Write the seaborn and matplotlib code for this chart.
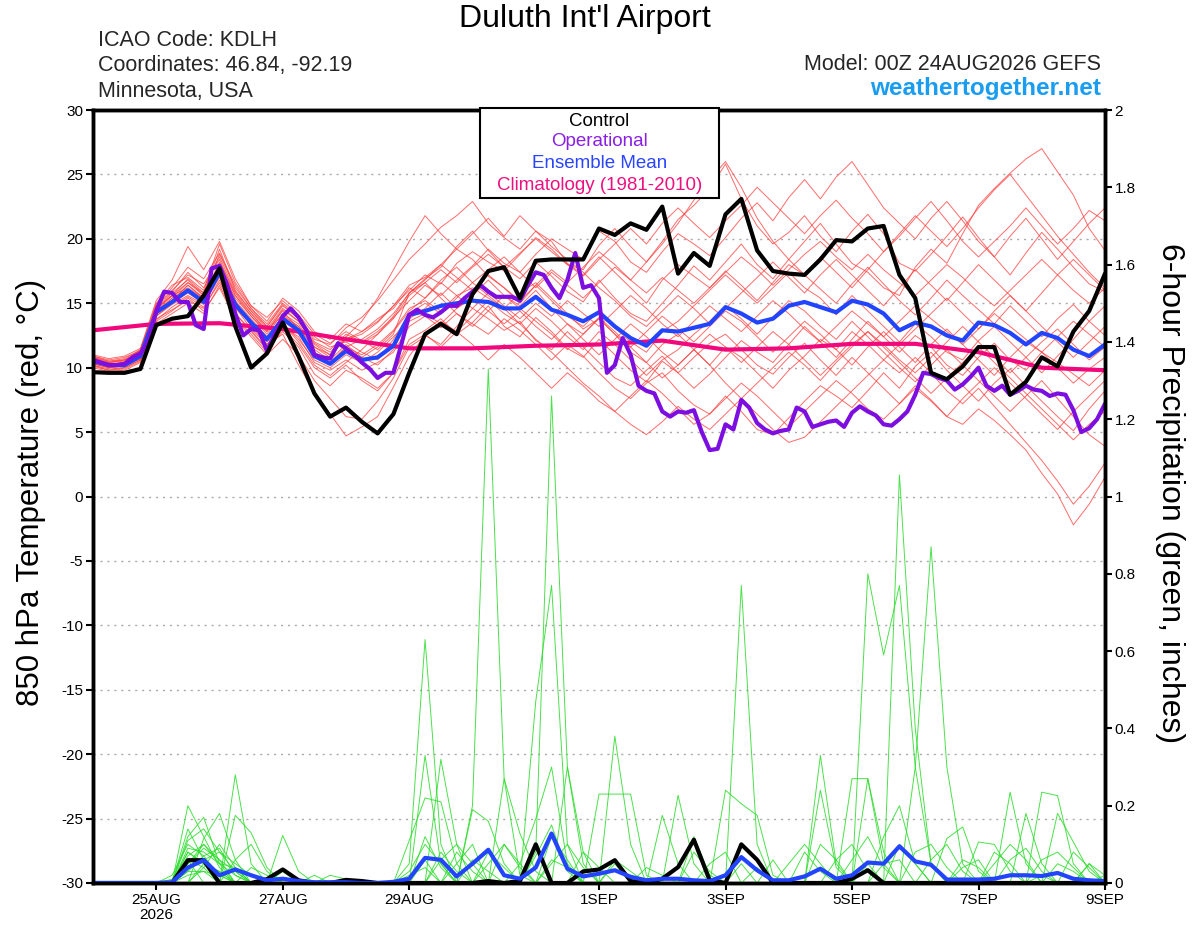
import numpy as np
import pandas as pd
import matplotlib
matplotlib.use("Agg")
import matplotlib.pyplot as plt
import seaborn as sns
from matplotlib.patches import Rectangle

sns.set_theme(style="white")
plt.rcParams["font.family"] = ["Liberation Sans", "DejaVu Sans"]

# ---------------- data ----------------
START = "2026-08-24 00:00"
N6 = 65    # 6-hourly ensemble steps
N3 = 129   # 3-hourly operational steps

TICK_DATES = ["2026-08-25", "2026-08-27", "2026-08-29", "2026-09-01",
              "2026-09-03", "2026-09-05", "2026-09-07", "2026-09-09"]
TICK_LABELS = ["25AUG\n2026", "27AUG", "29AUG", "1SEP", "3SEP", "5SEP", "7SEP", "9SEP"]
TEMP_TICKS = [-30, -25, -20, -15, -10, -5, 0, 5, 10, 15, 20, 25, 30]
PRCP_TICKS = [0, 0.2, 0.4, 0.6, 0.8, 1.0, 1.2, 1.4, 1.6, 1.8, 2.0]
PRCP_LABELS = ["0", "0.2", "0.4", "0.6", "0.8", "1", "1.2", "1.4", "1.6", "1.8", "2"]

control_t = [9.65, 9.6, 9.6, 9.9, 13.3, 13.8, 14.0, 15.6, 17.7, 13.2,
             10.0, 11.1, 13.5, 10.9, 8.0, 6.2, 6.9, 5.8, 4.9, 6.4,
             9.6, 12.6, 13.4, 12.6, 15.7, 17.5, 17.8, 15.4, 18.3, 18.4,
             18.4, 18.4, 20.8, 20.3, 21.2, 20.7, 22.5, 17.3, 18.9, 17.9,
             21.9, 23.1, 19.1, 17.5, 17.3, 17.2, 18.4, 19.9, 19.8, 20.8,
             21.0, 17.2, 15.4, 9.6, 9.1, 10.1, 11.6, 11.6, 7.9, 8.9,
             10.8, 10.1, 12.8, 14.4, 17.3]

mean_t = [10.5, 10.2, 10.2, 10.9, 14.3, 15.1, 16.0, 15.1, 17.4, 14.9,
          13.5, 12.2, 13.8, 12.9, 10.9, 10.3, 11.3, 10.6, 10.8, 11.7,
          14.1, 14.4, 14.8, 15.0, 15.2, 15.1, 14.6, 14.6, 15.5, 14.5,
          14.1, 13.6, 14.3, 13.2, 12.3, 11.7, 12.9, 12.8, 13.1, 13.4,
          14.7, 14.2, 13.5, 13.8, 14.8, 15.1, 14.7, 14.3, 15.2, 14.9,
          14.2, 12.9, 13.5, 13.2, 12.5, 12.1, 13.5, 13.3, 12.7, 11.8,
          12.7, 12.3, 11.4, 10.9, 11.8]

oper_t = [10.6, 10.4, 10.2, 10.2, 10.3, 10.8, 11.1, 12.1, 14.4, 15.9,
          15.8, 15.1, 15.1, 13.3, 13.0, 17.7, 17.9, 16.4, 14.2, 12.5,
          13.0, 12.9, 11.3, 12.6, 14.0, 14.6, 13.9, 12.9, 11.0, 10.8,
          10.7, 11.9, 11.5, 11.0, 10.4, 9.9, 9.2, 9.6, 9.6, 11.8,
          14.1, 14.5, 14.1, 13.9, 14.3, 14.8, 14.8, 15.4, 15.9, 16.4,
          15.9, 15.5, 15.5, 15.5, 15.2, 16.4, 17.4, 17.2, 16.2, 15.4,
          16.8, 18.9, 16.2, 16.4, 15.4, 9.6, 10.2, 12.3, 11.0, 8.6,
          8.2, 8.0, 6.6, 6.2, 6.6, 6.5, 6.7, 5.0, 3.6, 3.7,
          5.6, 5.2, 7.5, 6.9, 5.7, 5.2, 4.9, 5.1, 5.2, 6.9,
          6.6, 5.4, 5.6, 5.8, 5.9, 5.4, 6.5, 7.0, 6.6, 6.3,
          5.6, 5.5, 6.0, 6.6, 7.9, 9.6, 9.5, 9.2, 9.0, 8.3,
          8.7, 9.3, 10.0, 8.6, 8.2, 8.6, 7.9, 8.2, 8.6, 8.3,
          8.2, 7.8, 8.0, 7.9, 6.7, 5.0, 5.3, 6.0, 7.2]

clim_days = list(range(17))
clim_t = [12.9, 13.4, 13.45, 13.0, 12.2, 11.5, 11.5, 11.7, 11.8,
          12.1, 11.4, 11.5, 11.85, 11.85, 11.2, 10.0, 9.8]

members_t = [
    [10.8,10.5,10.6,11.2,14.8,16.0,17.2,16.5,18.4,15.6, 14.0,12.8,14.5,13.6,11.8,11.0,12.2,12.6,13.5,14.8,
     16.0,17.2,16.5,18.1,19.0,18.2,17.5,18.8,20.1,19.2, 18.0,17.6,19.5,20.8,19.4,18.2,19.8,21.5,22.6,23.9,
     25.8,23.1,21.0,19.6,20.5,21.8,20.2,19.0,20.6,21.9, 20.4,18.1,17.5,18.8,20.2,21.7,20.1,18.6,17.2,18.9,
     20.5,19.2,17.8,16.5,15.9],
    [10.2,9.9,10.0,10.6,13.8,14.5,15.2,14.6,16.8,14.2, 12.9,11.5,12.8,11.6,9.5,8.6,9.8,9.2,8.4,9.6,
     12.2,12.9,13.8,12.6,13.5,14.8,13.2,12.4,13.9,12.8, 11.5,10.8,12.2,11.0,9.8,8.9,10.5,9.6,10.8,11.9,
     12.6,11.4,10.2,9.5,10.8,11.9,10.6,9.4,10.8,9.6, 8.4,7.2,8.6,7.5,6.2,5.6,6.8,5.9,4.8,3.6,
     1.8,0.2,-2.2,-0.6,1.5],
    [11.0,10.7,10.9,11.5,15.2,16.8,19.4,17.6,19.8,16.9, 14.8,13.9,15.2,14.1,12.6,11.9,12.8,12.1,11.4,12.6,
     15.8,16.9,17.8,19.4,20.6,19.1,17.8,16.9,18.2,17.1, 15.9,15.1,16.8,15.4,14.2,13.6,15.0,16.4,17.9,16.8,
     18.2,19.6,18.0,16.9,18.4,19.8,21.2,19.6,18.1,17.4, 16.2,15.6,17.8,19.2,18.1,20.4,22.6,23.9,25.1,26.2,
     27.0,25.2,23.4,20.8,19.1],
    [10.4,10.1,10.3,11.0,14.1,15.4,16.1,15.3,18.1,15.2, 13.2,11.8,12.6,10.2,8.1,6.4,4.7,5.4,6.2,8.5,
     10.9,12.5,11.8,13.2,14.6,13.8,12.9,13.6,12.1,11.4, 12.8,11.6,10.4,9.2,8.6,9.8,10.9,9.6,8.4,9.5,
     10.8,12.1,11.2,10.4,11.8,13.2,12.0,10.8,12.2,13.6, 12.4,11.2,12.5,11.6,10.2,9.4,10.8,11.9,10.6,9.8,
     11.2,10.4,9.5,8.6,9.8],
    [10.6,10.4,10.5,11.4,14.6,15.6,16.6,15.8,19.2,16.0, 14.4,13.2,14.9,13.8,12.2,11.8,13.1,13.9,15.2,16.8,
     18.4,19.6,20.9,21.8,22.9,21.2,20.1,19.2,20.6,19.8, 18.1,17.2,18.6,17.4,16.2,15.0,16.8,18.0,17.1,16.2,
     17.5,16.4,15.2,16.6,18.0,17.2,16.1,15.0,16.5,17.8, 16.5,15.2,14.1,15.4,16.8,15.6,14.5,13.4,14.8,13.6,
     12.4,13.8,14.9,13.6,12.5],
    [10.0,9.7,9.8,10.4,13.4,14.2,15.0,14.2,16.4,13.9, 12.6,11.2,13.2,12.4,10.4,9.8,10.6,9.8,10.4,11.2,
     13.2,14.0,13.1,14.2,13.4,12.6,13.8,12.9,11.8,10.6, 11.8,10.9,9.6,8.4,7.6,8.8,9.6,8.2,7.1,6.4,
     7.8,6.6,5.2,4.8,6.1,7.4,8.6,7.8,6.9,8.2, 9.6,8.4,10.1,11.2,9.8,8.6,7.4,8.8,9.9,8.6,
     7.4,6.2,5.1,6.8,8.2],
    [10.9,10.6,10.8,11.3,14.9,16.2,17.8,16.9,18.9,16.4, 14.6,13.4,15.0,14.0,12.0,11.4,12.6,12.0,12.8,13.9,
     15.2,16.4,15.6,16.8,17.9,19.2,18.1,17.4,18.8,20.0, 19.2,18.4,20.6,19.8,18.2,17.4,19.0,20.4,19.6,18.7,
     20.1,21.6,22.8,21.4,23.2,24.6,23.1,24.8,26.0,24.2, 22.4,21.2,20.0,21.6,22.9,21.4,19.8,18.6,20.2,21.6,
     20.0,18.4,19.8,21.2,22.4],
    [10.3,10.0,10.1,10.7,14.0,14.9,15.6,14.9,17.0,14.6, 13.4,12.0,13.6,12.8,11.2,10.4,11.6,11.0,11.8,12.9,
     14.6,15.2,14.4,15.6,16.2,15.4,14.6,15.8,16.6,15.4, 14.2,13.0,13.8,12.6,11.2,10.4,11.8,12.6,11.4,10.2,
     11.6,10.8,9.6,8.4,9.8,10.9,12.2,11.4,10.2,11.6, 12.8,11.6,10.4,11.8,13.0,11.8,10.6,9.4,10.8,12.0,
     11.2,10.0,8.8,9.9,10.8],
    [10.7,10.3,10.4,11.1,14.5,15.8,16.8,15.6,18.2,15.8, 14.2,12.9,14.1,13.2,11.6,10.8,12.4,13.6,15.4,17.6,
     19.8,21.8,20.4,19.2,18.4,17.1,16.2,15.0,16.4,15.2, 14.0,13.2,14.4,13.1,12.0,11.2,12.8,13.6,14.8,16.0,
     17.2,16.1,15.0,16.2,17.4,16.2,15.4,14.1,15.6,14.4, 13.2,12.0,13.4,12.4,11.2,10.6,12.1,13.2,12.0,10.8,
     9.6,10.9,12.2,13.6,14.8],
    [10.1,9.8,9.9,10.5,13.6,14.4,15.4,14.4,16.2,13.8, 12.4,11.0,12.2,11.0,9.0,7.6,6.2,6.0,7.4,9.2,
     11.6,12.4,13.6,12.8,14.0,15.2,14.2,13.4,14.6,13.6, 12.4,11.4,12.8,11.8,10.6,9.4,10.6,11.4,12.6,13.6,
     14.8,13.8,12.6,13.9,15.2,14.4,13.2,12.2,13.6,12.4, 11.2,10.0,8.9,10.2,11.4,10.2,9.0,7.8,6.6,7.8,
     9.0,7.6,6.2,4.8,3.9],
    [10.5,10.2,10.3,10.8,14.2,15.2,16.4,15.4,17.8,15.0, 13.6,12.4,14.0,13.2,11.4,10.6,11.8,10.8,10.2,11.4,
     13.8,14.6,15.8,14.6,15.6,16.8,15.6,14.8,16.0,14.6, 13.4,12.6,13.9,12.8,11.6,12.8,14.0,13.0,12.0,13.2,
     14.4,13.6,12.4,11.2,12.4,13.6,12.6,11.4,12.8,11.8, 10.6,9.6,10.8,9.6,8.2,7.2,8.4,7.0,5.6,4.2,
     2.8,1.2,-0.6,0.8,2.6],
    [10.8,10.4,10.6,11.3,14.7,15.9,17.4,16.2,18.6,15.9, 14.4,13.0,14.6,13.6,11.9,11.2,12.4,11.9,12.6,13.8,
     15.6,16.6,17.6,16.6,17.8,18.8,17.8,18.9,20.0,19.0, 18.0,17.1,18.4,19.6,20.8,19.6,21.2,22.4,21.2,20.1,
     21.4,22.6,24.0,22.8,21.6,20.4,21.8,23.0,21.6,20.4, 19.0,20.2,21.6,22.9,21.4,19.8,18.6,19.8,21.0,22.4,
     21.0,19.6,20.8,22.2,21.4],
    [10.2,9.8,10.0,10.6,13.7,14.7,15.5,14.7,16.6,14.2, 12.8,11.4,13.0,11.8,10.0,9.2,10.2,9.0,8.2,9.6,
     11.8,12.6,11.6,12.8,11.8,10.6,11.8,10.8,9.6,8.4, 9.6,8.6,7.4,6.6,7.8,9.0,8.0,6.8,5.6,6.4,
     7.6,8.8,7.8,6.6,5.4,6.6,7.8,9.0,8.0,6.8, 6.0,7.2,8.4,7.4,6.2,7.6,8.8,10.0,8.8,7.6,
     6.4,5.2,6.6,7.8,9.0],
    [10.6,10.3,10.4,11.0,14.4,15.4,16.6,15.6,17.8,15.4, 14.0,12.6,14.2,13.4,11.6,11.0,12.2,12.8,13.6,14.8,
     16.4,17.0,18.0,19.2,20.4,21.6,20.2,21.8,20.6,19.4, 18.4,17.4,16.2,15.2,14.0,13.2,14.4,15.6,14.6,13.4,
     14.6,15.8,17.0,18.2,17.0,15.8,17.2,18.4,17.2,16.0, 14.8,16.2,17.6,16.4,15.2,16.6,18.0,16.8,15.6,14.4,
     15.8,17.2,18.4,17.2,16.0],
    [10.4,10.0,10.2,10.8,14.0,15.0,15.8,15.0,17.2,14.7, 13.0,11.8,13.4,12.2,10.6,10.0,11.0,10.4,11.2,12.4,
     13.6,14.2,13.4,14.6,15.4,14.4,13.4,14.4,13.2,12.2, 13.4,12.2,11.0,12.2,13.4,12.4,11.2,10.2,11.4,12.6,
     11.6,10.4,11.6,12.8,11.8,10.6,9.4,10.6,11.8,12.8, 11.8,10.6,9.6,10.8,12.0,13.2,12.0,10.8,9.6,10.8,
     12.0,13.0,11.8,10.6,11.6],
    [10.9,10.5,10.7,11.4,15.0,16.4,17.0,16.0,19.6,16.6, 14.8,13.6,15.4,14.4,12.8,12.2,13.4,12.8,13.8,14.6,
     16.2,15.4,16.8,17.8,16.6,17.6,18.6,17.4,16.2,17.4, 16.4,15.4,16.6,17.8,16.8,15.8,17.0,16.0,15.0,16.2,
     17.4,18.6,17.6,16.4,17.6,18.8,19.8,18.6,17.6,18.8, 17.6,16.6,15.6,16.8,18.0,17.0,15.8,14.8,16.0,17.2,
     18.4,17.2,16.0,15.0,16.2],
    [10.3,10.0,10.2,10.9,14.2,15.2,15.9,15.2,17.6,15.2, 13.8,12.4,13.4,12.0,10.2,9.4,10.4,11.4,12.6,14.0,
     15.8,16.6,15.4,14.2,13.2,14.4,15.6,14.6,13.6,12.6, 11.4,12.6,13.8,12.6,11.6,10.4,9.2,10.2,11.4,10.2,
     8.8,7.6,6.4,5.2,4.2,4.6,5.8,7.0,8.2,9.4, 10.6,11.8,13.0,14.2,15.4,14.2,13.0,14.4,15.6,14.4,
     13.2,12.0,10.8,12.0,13.2],
    [10.6,10.2,10.4,11.0,14.6,15.6,16.2,15.4,18.0,15.6, 14.2,12.8,14.4,13.0,11.0,10.4,11.6,12.2,13.0,14.2,
     15.8,16.8,18.0,17.0,16.0,17.2,16.2,15.2,16.4,17.6, 16.6,17.8,19.0,18.0,16.8,18.2,19.6,21.2,23.0,24.6,
     26.0,24.0,21.6,19.8,18.4,17.2,18.6,17.4,16.2,17.6, 19.0,20.4,21.8,20.6,19.4,20.8,22.4,23.8,25.0,23.4,
     21.8,20.2,18.8,17.4,16.2],
    [10.5,10.1,10.2,10.7,14.2,15.2,16.4,15.4,17.4,15.0, 13.6,12.2,13.8,12.6,10.8,10.2,11.4,10.8,11.6,12.8,
     14.4,15.4,16.6,15.6,14.6,15.8,14.8,13.8,15.0,14.0, 15.2,14.2,13.2,14.4,15.6,14.6,13.4,12.4,13.6,14.8,
     13.8,12.8,14.0,15.2,14.2,13.0,12.0,13.2,14.4,13.4, 12.4,13.6,14.8,13.8,12.8,11.8,13.0,14.2,13.2,12.2,
     11.2,12.4,13.6,12.6,11.6],
    [10.7,10.4,10.6,11.2,14.4,15.6,16.9,15.8,18.8,16.2, 14.6,13.2,14.8,13.8,12.4,11.6,12.0,11.2,10.6,12.2,
     14.2,15.0,14.2,15.4,16.6,15.6,14.6,13.4,12.2,11.2, 10.0,8.8,7.8,6.6,5.6,4.8,5.8,7.0,6.0,5.2,
     6.4,7.6,8.8,10.0,11.2,10.2,9.0,10.4,11.6,12.8, 11.6,10.4,9.2,8.0,9.2,10.4,11.6,10.4,9.2,8.0,
     6.8,5.6,4.4,5.6,6.6],
]

# 6-hour precipitation (inches): control, ensemble mean, and members
control_p = [0, 0, 0, 0, 0, 0, 0.059, 0.059, 0, 0,
             0, 0.01, 0.035, 0.007, 0, 0, 0.008, 0.005, 0, 0,
             0, 0, 0, 0, 0, 0.005, 0, 0.005, 0.10, 0,
             0, 0.03, 0.035, 0.059, 0.005, 0, 0.011, 0.041, 0.112, 0.007,
             0, 0.10, 0.06, 0, 0, 0, 0, 0, 0.011, 0.033,
             0, 0, 0, 0, 0, 0, 0, 0, 0, 0,
             0, 0, 0, 0, 0]
mean_p = [0, 0, 0, 0, 0, 0.002, 0.04, 0.059, 0.02, 0.035,
          0.02, 0.007, 0.011, 0.005, 0.002, 0.002, 0.002, 0, 0, 0.003,
          0.011, 0.065, 0.06, 0.017, 0.05, 0.086, 0.02, 0.011, 0.04, 0.128,
          0.037, 0.017, 0.024, 0.033, 0.016, 0.007, 0.011, 0.011, 0.007, 0.005,
          0.02, 0.067, 0.033, 0.007, 0.007, 0.017, 0.037, 0.011, 0.02, 0.053,
          0.05, 0.095, 0.056, 0.047, 0.009, 0.009, 0.009, 0.011, 0.02, 0.02,
          0.018, 0.026, 0.011, 0.007, 0.005]

# members: step index -> inches (all other steps are dry)
members_p = [
    {6: 0.2, 7: 0.12, 8: 0.04, 20: 0.05, 21: 0.63, 22: 0.1, 28: 0.08, 29: 1.26, 30: 0.3, 31: 0.05, 41: 0.77, 42: 0.1, 49: 0.05, 60: 0.02},
    {6: 0.14, 7: 0.06, 9: 0.28, 10: 0.05, 24: 0.2, 25: 1.33, 26: 0.27, 27: 0.02, 33: 0.05, 46: 0.33, 47: 0.05, 58: 0.235, 59: 0.05},
    {6: 0.12, 7: 0.17, 8: 0.05, 21: 0.33, 22: 0.05, 28: 0.47, 29: 0.77, 30: 0.1, 49: 0.8, 50: 0.59, 51: 0.77, 52: 0.3, 53: 0.05, 60: 0.235, 61: 0.226, 62: 0.05},
    {7: 0.115, 8: 0.18, 9: 0.06, 12: 0.123, 13: 0.03, 22: 0.32, 23: 0.1, 33: 0.38, 34: 0.1, 51: 1.056, 52: 0.4, 53: 0.05, 63: 0.05},
    {6: 0.06, 9: 0.175, 10: 0.13, 11: 0.04, 20: 0.11, 21: 0.22, 22: 0.21, 23: 0.05, 37: 0.227, 38: 0.05, 52: 0.3, 53: 0.87, 54: 0.3, 55: 0.05},
    {6: 0.08, 7: 0.05, 8: 0.03, 24: 0.19, 25: 0.16, 26: 0.05, 32: 0.23, 33: 0.23, 34: 0.23, 35: 0.02, 48: 0.27, 49: 0.27, 50: 0.05, 59: 0.18, 60: 0.05},
    {5: 0.02, 6: 0.1, 7: 0.07, 8: 0.02, 26: 0.27, 27: 0.128, 28: 0.03, 40: 0.24, 41: 0.205, 42: 0.175, 43: 0.02, 54: 0.115, 55: 0.145, 56: 0.03},
    {6: 0.05, 7: 0.09, 8: 0.06, 9: 0.03, 27: 0.05, 28: 0.166, 29: 0.3, 30: 0.05, 36: 0.175, 37: 0.05, 46: 0.24, 47: 0.04, 61: 0.18, 62: 0.106, 63: 0.03},
    {7: 0.04, 8: 0.1, 9: 0.04, 12: 0.03, 23: 0.05, 24: 0.1, 30: 0.3, 31: 0.08, 38: 0.12, 39: 0.02, 49: 0.27, 50: 0.08, 56: 0.106, 57: 0.1, 58: 0.03},
    {6: 0.03, 7: 0.03, 21: 0.06, 25: 0.08, 26: 0.04, 41: 0.1, 42: 0.06, 45: 0.08, 46: 0.03, 57: 0.05, 58: 0.1, 59: 0.06},
    {6: 0.09, 7: 0.08, 8: 0.05, 9: 0.02, 22: 0.08, 23: 0.03, 29: 0.12, 30: 0.06, 43: 0.06, 50: 0.12, 51: 0.2, 52: 0.05},
    {6: 0.07, 7: 0.1, 8: 0.05, 9: 0.04, 20: 0.03, 21: 0.1, 22: 0.05, 31: 0.08, 32: 0.04, 44: 0.05, 45: 0.1, 46: 0.05, 62: 0.08, 63: 0.04},
    {6: 0.04, 7: 0.06, 8: 0.08, 9: 0.05, 10: 0.02, 24: 0.06, 25: 0.03, 28: 0.07, 29: 0.15, 30: 0.03, 47: 0.06, 48: 0.1, 49: 0.03, 55: 0.04, 56: 0.06},
    {7: 0.05, 8: 0.03, 15: 0.02, 16: 0.01, 21: 0.12, 22: 0.04, 35: 0.04, 36: 0.02, 53: 0.06, 54: 0.1, 55: 0.03},
    {6: 0.11, 7: 0.14, 8: 0.08, 9: 0.03, 22: 0.06, 23: 0.1, 24: 0.05, 39: 0.05, 40: 0.08, 51: 0.1, 52: 0.05, 60: 0.06, 61: 0.08, 62: 0.04},
    {5: 0.01, 6: 0.06, 7: 0.04, 9: 0.06, 10: 0.1, 11: 0.03, 26: 0.1, 27: 0.05, 41: 0.05, 48: 0.06, 49: 0.12, 50: 0.04, 64: 0.02},
    {6: 0.03, 7: 0.07, 8: 0.09, 9: 0.02, 14: 0.02, 29: 0.05, 30: 0.1, 31: 0.04, 46: 0.1, 47: 0.06, 58: 0.06, 59: 0.09, 60: 0.03},
    {6: 0.02, 7: 0.03, 8: 0.02, 20: 0.02, 21: 0.04, 33: 0.06, 34: 0.03, 52: 0.08, 53: 0.1, 54: 0.04, 63: 0.05, 64: 0.02},
    {6: 0.08, 7: 0.05, 10: 0.04, 11: 0.02, 25: 0.05, 26: 0.1, 27: 0.04, 42: 0.04, 50: 0.05, 51: 0.06, 57: 0.08, 58: 0.05},
    {6: 0.05, 7: 0.1, 8: 0.06, 23: 0.08, 24: 0.03, 29: 0.06, 30: 0.04, 38: 0.08, 39: 0.03, 55: 0.06, 56: 0.04, 61: 0.05, 62: 0.03},
]

# ---------------- frames ----------------
t6 = pd.date_range(START, periods=N6, freq="6h")
t3 = pd.date_range(START, periods=N3, freq="3h")
tday = pd.date_range(START, periods=len(clim_days), freq="1D")

red_df = pd.concat([pd.DataFrame({"time": t6, "temp": m, "member": k})
                    for k, m in enumerate(members_t)], ignore_index=True)
green_df = pd.concat([pd.DataFrame({"time": t6,
                                    "prcp": [d.get(i, 0.0) for i in range(N6)],
                                    "member": k})
                      for k, d in enumerate(members_p)], ignore_index=True)

RED = "#ff3a3a"
GREEN = "#2bdc2b"
PURPLE = "#7c0fe0"
BLUE = "#2244ff"
PINK = "#f0087c"

fig = plt.figure(figsize=(12, 9.27), dpi=100)
ax = fig.add_axes([93 / 1200, 1 - 883 / 927, 1012 / 1200, 773 / 927])
ax2 = ax.twinx()

# temperature
ax.yaxis.grid(True, linestyle=(0, (1.5, 3.5)), color="#aaaaaa", lw=1.0)
ax.xaxis.grid(False)
sns.lineplot(data=red_df, x="time", y="temp", units="member", estimator=None,
             color=RED, lw=0.7, alpha=0.75, ax=ax, legend=False)
sns.lineplot(x=tday, y=clim_t, color=PINK, lw=3, ax=ax)
sns.lineplot(x=t6, y=mean_t, color=BLUE, lw=3, ax=ax)
sns.lineplot(x=t3, y=oper_t, color=PURPLE, lw=3, ax=ax)
sns.lineplot(x=t6, y=control_t, color="black", lw=3, ax=ax)

# precipitation
sns.lineplot(data=green_df, x="time", y="prcp", units="member", estimator=None,
             color=GREEN, lw=0.7, alpha=0.85, ax=ax2, legend=False)
sns.lineplot(x=t6, y=control_p, color="black", lw=3, ax=ax2)
sns.lineplot(x=t6, y=mean_p, color=BLUE, lw=3, ax=ax2)

ax.set_xlim(t6[0], t6[-1])
ax.set_ylim(-30, 30)
ax2.set_ylim(0, 2)
ax.set_yticks(TEMP_TICKS)
ax.set_yticklabels([str(v) for v in TEMP_TICKS])
ax2.set_yticks(PRCP_TICKS)
ax2.set_yticklabels(PRCP_LABELS)
ax.set_xticks(pd.to_datetime(TICK_DATES))
ax.set_xticklabels(TICK_LABELS, linespacing=1.1)
ax.set_xlabel("")
ax.set_ylabel("")
ax2.set_ylabel("")

for a in (ax, ax2):
    for s in a.spines.values():
        s.set_color("black")
        s.set_linewidth(2.5)
ax.tick_params(axis="both", which="major", direction="out", length=5, width=1.5,
               colors="black", labelsize=11, left=True, bottom=True, pad=2)
ax2.tick_params(axis="y", direction="out", length=5, width=1.5, colors="black",
                labelsize=11, right=True, pad=2)

# axis titles
fig.text(0.026, 0.469, "850 hPa Temperature (red, °C)", rotation=90,
         ha="center", va="center", fontsize=22.5, color="black")
fig.text(0.975, 0.468, "6-hour Precipitation (green, inches)", rotation=270,
         ha="center", va="center", fontsize=23, color="black")

# header texts
fig.text(585 / 1200, 1 - 19 / 927, "Duluth Int'l Airport", ha="center", va="center",
         fontsize=23, color="black")
fig.text(98 / 1200, 1 - 40 / 927, "ICAO Code: KDLH", ha="left", va="center", fontsize=15.5)
fig.text(98 / 1200, 1 - 66 / 927, "Coordinates: 46.84, -92.19", ha="left", va="center", fontsize=15.5)
fig.text(98 / 1200, 1 - 92 / 927, "Minnesota, USA", ha="left", va="center", fontsize=15.5)
fig.text(1101 / 1200, 1 - 64 / 927, "Model: 00Z 24AUG2026 GEFS", ha="right", va="center", fontsize=15.5)
fig.text(1101 / 1200, 1 - 89 / 927, "weathertogether.net", ha="right", va="center",
         fontsize=17.5, fontweight="bold", color="#1a9cf0")

# legend box
fig.add_artist(Rectangle((480 / 1200, 1 - 198 / 927), 239 / 1200, 90 / 927,
                         transform=fig.transFigure, facecolor="white",
                         edgecolor="black", lw=1.5, zorder=10))
for txt, col, yp in [("Control", "black", 121), ("Operational", "#8a1ee6", 142),
                     ("Ensemble Mean", "#2a45ff", 163),
                     ("Climatology (1981-2010)", "#ee1080", 185)]:
    fig.text(599.5 / 1200, 1 - yp / 927, txt, ha="center", va="center",
             fontsize=13.5, color=col, zorder=11)

fig.savefig("out.png", dpi=100)
